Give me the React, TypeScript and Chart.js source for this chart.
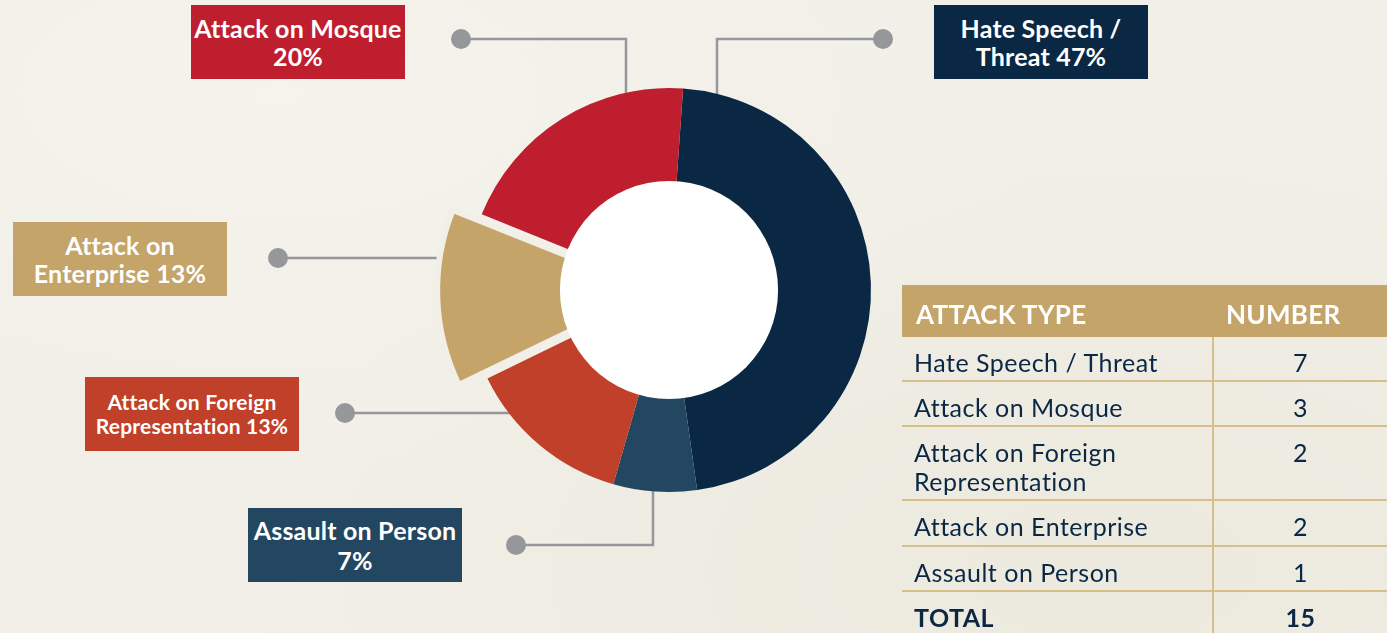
import React, { useEffect, useRef } from "react";
import { Chart, registerables } from "chart.js";

Chart.register(...registerables);

// ---- data (clockwise from the top of the ring) ----
const categories = [
  "Hate Speech / Threat",
  "Assault on Person",
  "Attack on Foreign Representation",
  "Attack on Enterprise",
  "Attack on Mosque",
];
const counts = [7, 1, 2, 2, 3];
const sliceColors = ["#0a2744", "#234661", "#c04029", "#c4a468", "#be1e2d"];
const sliceOffsets = [0, 0, 0, 60, 0];
const sliceBorders = [0, 0, 0, 6, 0];
const sliceExtraRadius = [0, 0, 0, 11, 0];

// callout texts (line 1, start of line 2; percentage appended)
const calloutHead = ["Hate Speech /", "Assault on Person", "Attack on Foreign", "Attack on", "Attack on Mosque"];
const calloutTail = ["Threat", "", "Representation", "Enterprise", ""];

// table
const tableTypes = ["Hate Speech / Threat", "Attack on Mosque", "Attack on Foreign Representation", "Attack on Enterprise", "Assault on Person"];
const tableNumbers = [7, 3, 2, 2, 1];
const tableHeaders = ["ATTACK TYPE", "NUMBER"];
const totalLabel = "TOTAL";

// ---- layout / style ----
const W = 1387;
const H = 633;
const BG = "#f1efe7";
const LINE = "#96979b";
const NAVY = "#0a2744";
const GOLD = "#c4a468";
const RULE = "#d8be88";
const FONT = "Lato, 'Open Sans', sans-serif";

const calloutBoxes = [
  { left: 934, top: 5, size: 25, lh: 28 },
  { left: 248, top: 508, size: 25, lh: 30 },
  { left: 85, top: 377, size: 21, lh: 24 },
  { left: 13, top: 222, size: 25, lh: 28 },
  { left: 191, top: 5, size: 25, lh: 28 },
];

// connector paths: dot first, then bend points; last point goes into the ring
type Pt = [number, number];
const connectors: { dot: Pt; bend: Pt[]; end: (cx: number, cy: number) => Pt }[] = [
  { dot: [883, 39], bend: [[717, 39]], end: (cx, cy) => [717, cy - 60] },
  { dot: [516, 545], bend: [[653, 545]], end: (cx, cy) => [653, cy + 60] },
  { dot: [345, 413], bend: [], end: (cx, cy) => [cx - 100, 413] },
  { dot: [278, 258], bend: [], end: (cx, cy) => [cx - 100, 258] },
  { dot: [461, 39], bend: [[626, 39]], end: (cx, cy) => [626, cy - 60] },
];

const total = counts.reduce((a, b) => a + b, 0);
const pct = (v: number) => Math.round((v / total) * 100) + "%";

const decorPlugin = {
  id: "decor",
  beforeDatasetsDraw(chart: any) {
    const meta = chart.getDatasetMeta(0);
    const arc = meta.data[0];
    if (!arc) return;
    const base = chart.getDatasetMeta(0).controller.outerRadius;
    meta.data.forEach((el: any, i: number) => {
      el.outerRadius = base + (sliceExtraRadius[i] || 0);
    });
    const { x: cx, y: cy } = arc.getProps(["x", "y"], true);
    const ctx = chart.ctx;
    ctx.save();
    ctx.strokeStyle = LINE;
    ctx.fillStyle = LINE;
    ctx.lineWidth = 2.5;
    connectors.forEach((c) => {
      const pts: Pt[] = [c.dot, ...c.bend, c.end(cx, cy)];
      ctx.beginPath();
      ctx.moveTo(pts[0][0], pts[0][1]);
      for (let i = 1; i < pts.length; i++) ctx.lineTo(pts[i][0], pts[i][1]);
      ctx.stroke();
      ctx.beginPath();
      ctx.arc(c.dot[0], c.dot[1], 10, 0, Math.PI * 2);
      ctx.fill();
    });
    ctx.restore();
  },
  afterDatasetsDraw(chart: any) {
    const arc = chart.getDatasetMeta(0).data[0];
    if (!arc) return;
    const { x: cx, y: cy } = arc.getProps(["x", "y"], true);
    const R = chart.getDatasetMeta(0).controller.outerRadius;
    const ctx = chart.ctx;
    ctx.save();
    ctx.fillStyle = "#ffffff";
    ctx.beginPath();
    ctx.arc(cx, cy, R * 0.54, 0, Math.PI * 2);
    ctx.fill();
    ctx.restore();
  },
};

function DonutChart() {
  const ref = useRef<HTMLCanvasElement | null>(null);
  useEffect(() => {
    if (!ref.current) return;
    const chart = new Chart(ref.current, {
      type: "doughnut",
      data: {
        labels: categories,
        datasets: [
          {
            data: counts,
            backgroundColor: sliceColors,
            borderColor: BG,
            borderWidth: sliceBorders,
            offset: sliceOffsets,
            hoverOffset: 0,
          },
        ],
      },
      options: {
        animation: false,
        responsive: true,
        maintainAspectRatio: false,
        events: [],
        radius: 202,
        cutout: "30%",
        rotation: 4,
        layout: { padding: { left: 409, top: 30, right: 458, bottom: 83 } },
        plugins: { legend: { display: false }, tooltip: { enabled: false } },
      } as any,
      plugins: [decorPlugin],
    });
    return () => chart.destroy();
  }, []);
  return (
    <div style={{ position: "absolute", left: 0, top: 0, width: W, height: H }}>
      <canvas ref={ref} />
    </div>
  );
}

export default function App() {
  const rowHeights = [45, 45, 74, 46, 45];
  return (
    <div
      style={{
        position: "absolute",
        left: 0,
        top: 0,
        width: W,
        height: H,
        overflow: "hidden",
        background:
          "radial-gradient(ellipse at 20% 15%, #f4f3ec 0%, rgba(244,243,236,0) 50%), radial-gradient(ellipse at 80% 90%, #ece9de 0%, rgba(236,233,222,0) 55%), #f1efe7",
        fontFamily: FONT,
      }}
    >
      <DonutChart />
      {calloutBoxes.map((b, i) => (
        <div
          key={i}
          style={{
            position: "absolute",
            left: b.left,
            top: b.top,
            width: 214,
            height: 74,
            background: sliceColors[i],
            color: "#ffffff",
            fontWeight: 700,
            fontSize: b.size,
            letterSpacing: "0.2px",
            lineHeight: b.lh + "px",
            textAlign: "center",
            display: "flex",
            flexDirection: "column",
            justifyContent: "center",
            alignItems: "center",
            whiteSpace: "nowrap",
          }}
        >
          <div>{calloutHead[i]}</div>
          <div>{(calloutTail[i] ? calloutTail[i] + " " : "") + pct(counts[i])}</div>
        </div>
      ))}
      <div style={{ position: "absolute", left: 902, top: 285, width: W - 902, color: NAVY }}>
        <div
          style={{
            display: "flex",
            height: 52,
            background: GOLD,
            color: "#ffffff",
            fontWeight: 700,
            fontSize: 26,
            letterSpacing: "0.3px",
            lineHeight: "52px",
          }}
        >
          <div style={{ width: 310, paddingLeft: 14, boxSizing: "border-box", paddingTop: 3 }}>{tableHeaders[0]}</div>
          <div style={{ flex: 1, paddingLeft: 14, paddingTop: 3 }}>{tableHeaders[1]}</div>
        </div>
        {tableTypes.map((t, i) => (
          <div
            key={i}
            style={{
              display: "flex",
              height: rowHeights[i],
              boxSizing: "border-box",
              borderBottom: "2px solid " + RULE,
              fontSize: 25,
              letterSpacing: "0.5px",
              lineHeight: "29px",
            }}
          >
            <div style={{ width: 310, paddingLeft: 12, paddingTop: 11, paddingRight: 12, boxSizing: "border-box" }}>{t}</div>
            <div style={{ flex: 1, borderLeft: "2px solid " + RULE, textAlign: "center", paddingTop: 11 }}>{tableNumbers[i]}</div>
          </div>
        ))}
        <div style={{ display: "flex", height: 60, fontSize: 25, letterSpacing: "0.5px", lineHeight: "29px", fontWeight: 700 }}>
          <div style={{ width: 310, paddingLeft: 12, paddingTop: 11, boxSizing: "border-box" }}>{totalLabel}</div>
          <div style={{ flex: 1, borderLeft: "2px solid " + RULE, textAlign: "center", paddingTop: 11 }}>
            {tableNumbers.reduce((a, b) => a + b, 0)}
          </div>
        </div>
      </div>
    </div>
  );
}
